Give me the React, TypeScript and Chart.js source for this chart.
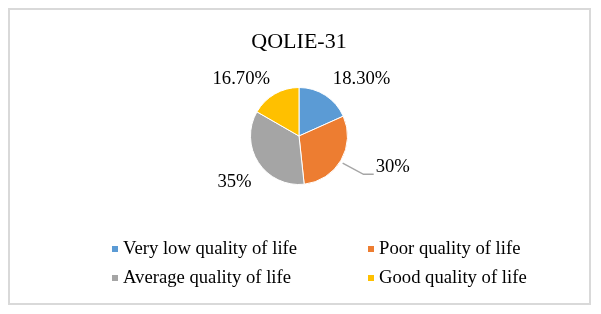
import React, { useEffect, useRef } from "react";
import { Chart, registerables } from "chart.js";

Chart.register(...registerables);

const categories = [
  "Very low quality of life",
  "Poor quality of life",
  "Average quality of life",
  "Good quality of life",
];
const values = [18.3, 30, 35, 16.7];
const colors = ["#5B9BD5", "#ED7D31", "#A5A5A5", "#FFC000"];
const titleText = "QOLIE-31";

const SERIF = '"Liberation Serif", "Times New Roman", serif';

function fmt(v: number): string {
  return Number.isInteger(v) ? `${v}%` : `${v.toFixed(2)}%`;
}

// label placement relative to pie centre, in units of radius
const labelPlace = [
  { x: 1.29, y: -1.17, align: "center" as CanvasTextAlign },
  { x: 1.58, y: 0.65, align: "left" as CanvasTextAlign },
  { x: -1.33, y: 0.96, align: "center" as CanvasTextAlign },
  { x: -1.19, y: -1.17, align: "center" as CanvasTextAlign },
];
const leader: (number[][] | null)[] = [
  null,
  [
    [0.9, 0.56],
    [1.33, 0.79],
    [1.54, 0.79],
  ],
  null,
  null,
];

const overlay = {
  id: "overlay",
  afterDraw(chart: any) {
    const ctx: CanvasRenderingContext2D = chart.ctx;
    const meta = chart.getDatasetMeta(0);
    const arc0 = meta.data[0];
    const cx = arc0.x;
    const cy = arc0.y;
    const r = arc0.outerRadius;
    ctx.save();
    // title
    ctx.fillStyle = "#000";
    ctx.font = `22px ${SERIF}`;
    ctx.textAlign = "center";
    ctx.textBaseline = "middle";
    ctx.fillText(titleText, cx, 32);

    // leader lines
    leader.forEach((pts) => {
      if (!pts) return;
      ctx.beginPath();
      ctx.strokeStyle = "#A6A6A6";
      ctx.lineWidth = 1.5;
      pts.forEach((p, i) => {
        const px = cx + p[0] * r;
        const py = cy + p[1] * r;
        if (i === 0) ctx.moveTo(px, py);
        else ctx.lineTo(px, py);
      });
      ctx.stroke();
    });

    // data labels
    ctx.font = `18.67px ${SERIF}`;
    ctx.fillStyle = "#000";
    values.forEach((v, i) => {
      const p = labelPlace[i];
      ctx.textAlign = p.align;
      ctx.fillText(fmt(v), cx + p.x * r, cy + p.y * r);
    });

    // legend in two columns
    const colX = [102, 358];
    const rowY = [239, 268];
    ctx.font = `18.67px ${SERIF}`;
    ctx.textAlign = "left";
    categories.forEach((c, i) => {
      const col = i % 2;
      const row = Math.floor(i / 2);
      ctx.fillStyle = colors[i];
      ctx.fillRect(colX[col], rowY[row] - 3, 6, 6);
      ctx.fillStyle = "#000";
      ctx.fillText(c, colX[col] + 11, rowY[row]);
    });
    ctx.restore();
  },
};

export default function App() {
  const ref = useRef<HTMLCanvasElement>(null);
  useEffect(() => {
    if (!ref.current) return;
    const chart = new Chart(ref.current, {
      type: "pie",
      data: {
        labels: categories,
        datasets: [
          {
            data: values,
            backgroundColor: colors,
            borderColor: "#ffffff",
            borderWidth: 1,
          },
        ],
      },
      options: {
        animation: false,
        responsive: false,
        maintainAspectRatio: false,
        layout: { padding: { left: 240, right: 241, top: 77, bottom: 118 } },
        plugins: {
          legend: { display: false },
          title: { display: false },
          tooltip: { enabled: false },
        },
      },
      plugins: [overlay],
    });
    return () => chart.destroy();
  }, []);
  return (
    <div
      style={{
        width: 583,
        height: 297,
        border: "2px solid #d9d9d9",
        boxSizing: "border-box",
        background: "#fff",
      }}
    >
      <canvas ref={ref} width={579} height={293} style={{ display: "block" }} />
    </div>
  );
}
